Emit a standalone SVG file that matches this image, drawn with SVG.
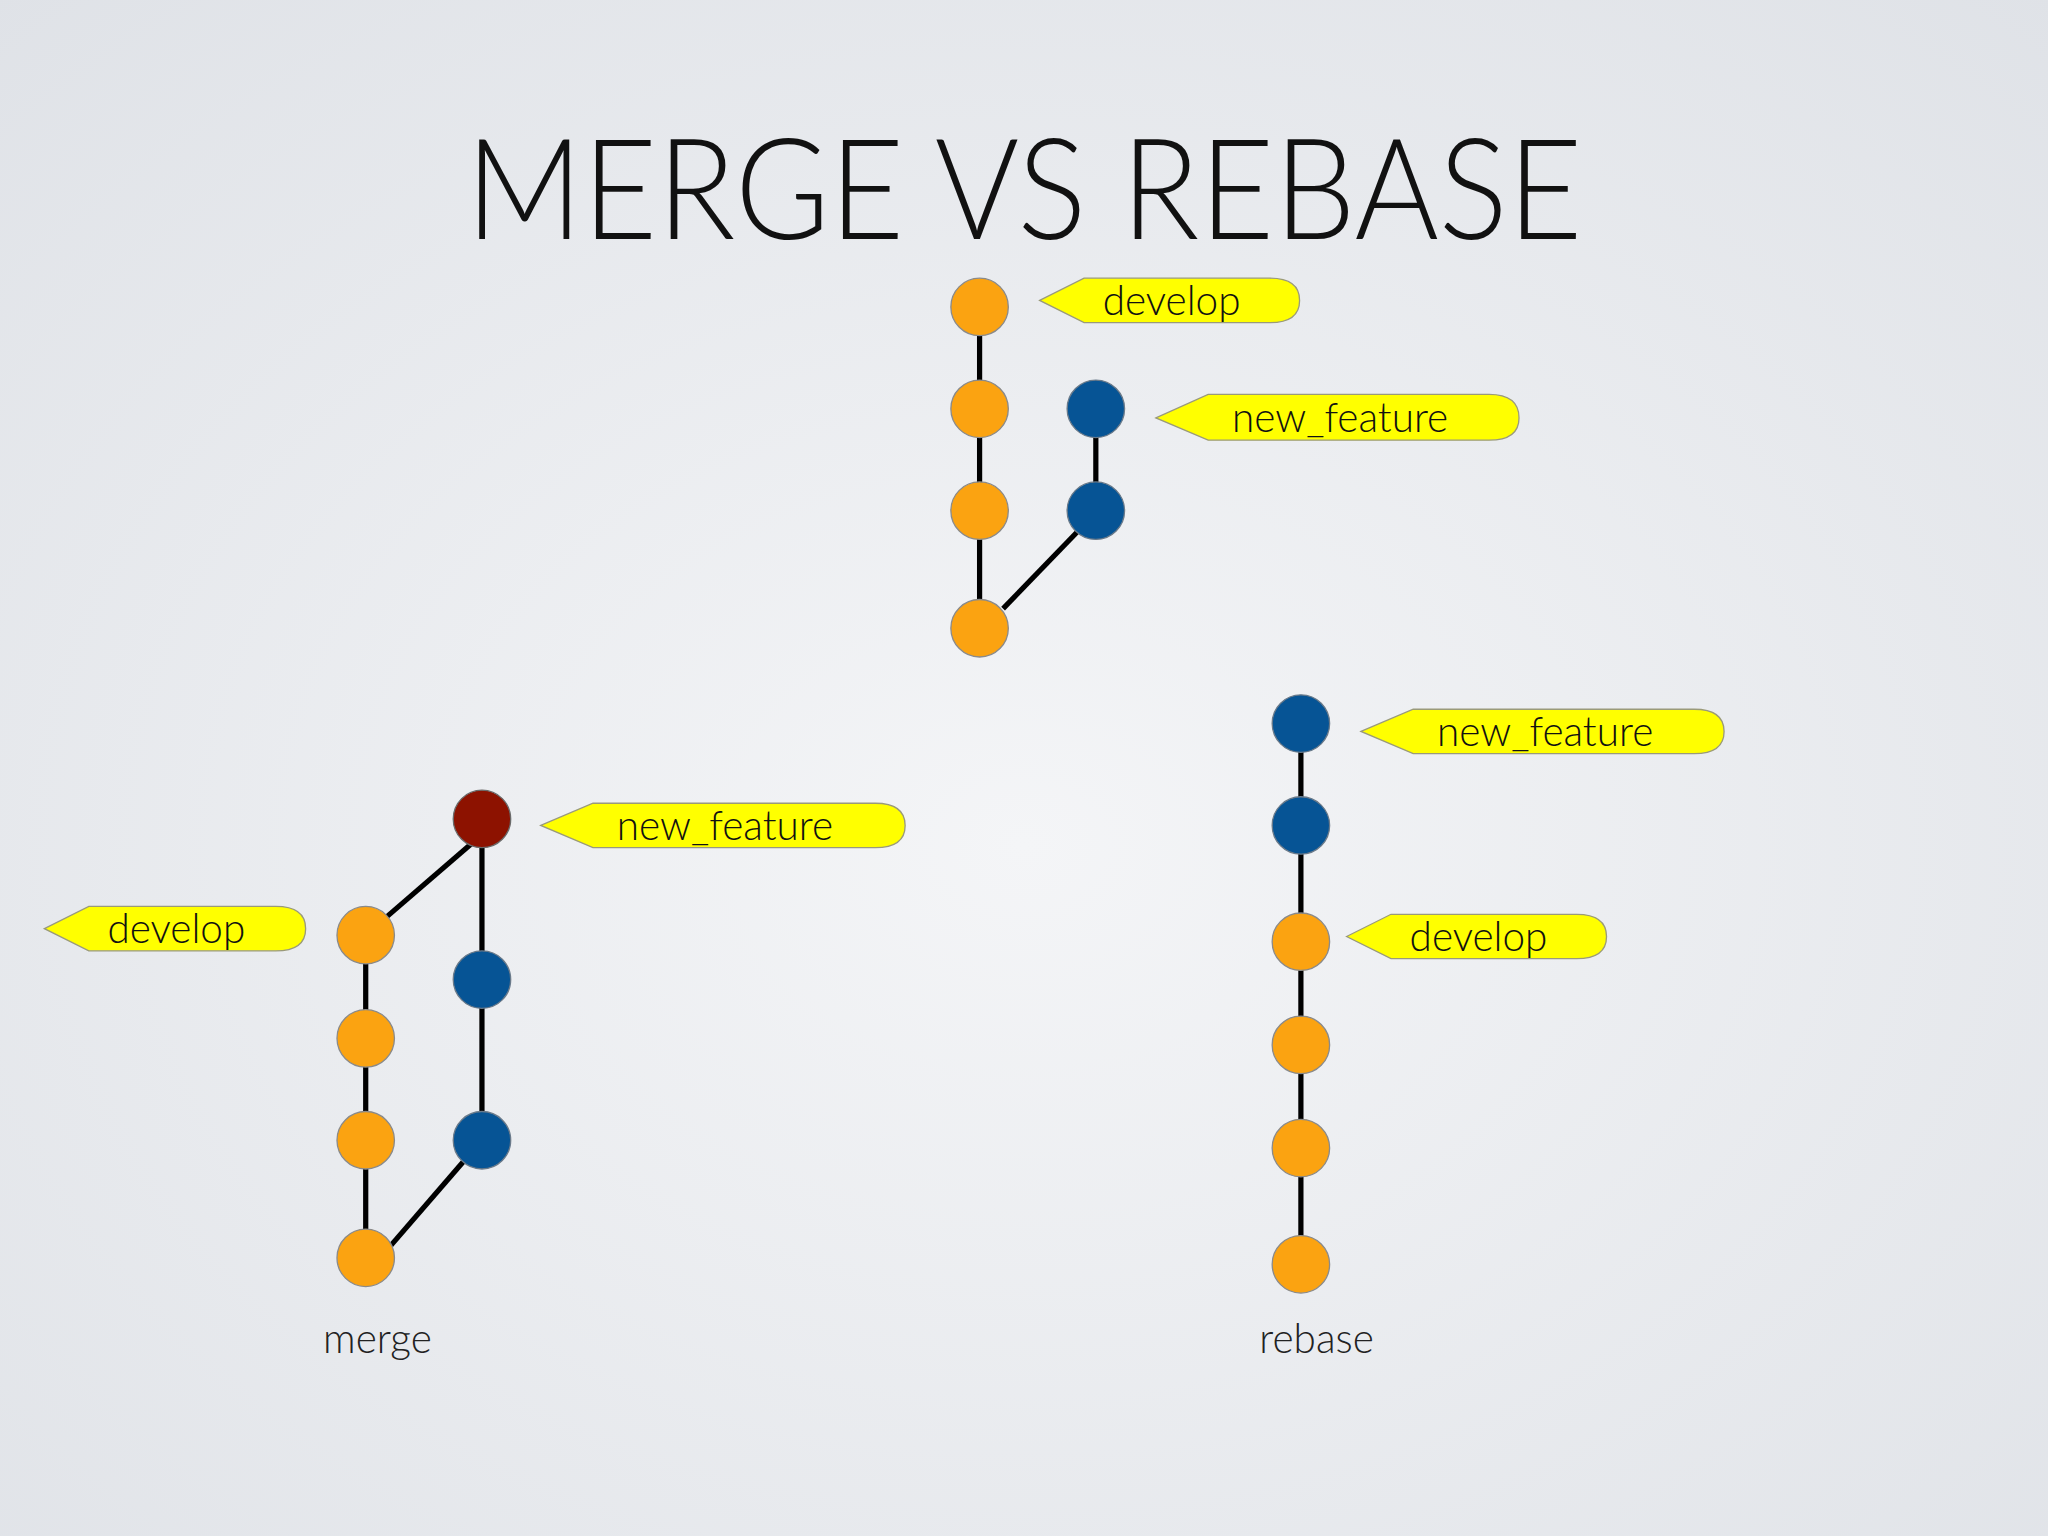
<svg xmlns="http://www.w3.org/2000/svg" width="2048" height="1536" viewBox="0 0 2048 1536">
<defs>
<radialGradient id="bg" cx="50%" cy="55%" r="75%">
<stop offset="0" stop-color="#f4f5f7"/><stop offset="1" stop-color="#dfe2e7"/>
</radialGradient>
<style>
.o{fill:#fba311;stroke:#8a8a8a;stroke-width:1}
.b{fill:#065495;stroke:#6a7a8a;stroke-width:1}
.r{fill:#8d1200;stroke:#6a6a6a;stroke-width:1}
.e{stroke:#000;stroke-width:4;fill:none}
.tag{fill:#ffff00;stroke:#9a9a7a;stroke-width:1}
.t{font-family:Lato,"Open Sans",sans-serif;font-weight:300;font-size:31px;fill:#111;text-anchor:middle}
.cap{font-family:Lato,"Open Sans",sans-serif;font-weight:300;font-size:31px;fill:#222;text-anchor:middle}
</style>
</defs>
<rect width="2048" height="1536" fill="url(#bg)"/>
<g transform="scale(1.30612)">
<text x="784" y="183" font-family="Lato,'Open Sans',sans-serif" font-weight="300" font-size="108" fill="#111" text-anchor="middle" textLength="855" lengthAdjust="spacingAndGlyphs">MERGE VS REBASE</text>
<g id="connectors">
<line class="e" x1="750" y1="235" x2="750" y2="481"/>
<line class="e" x1="839" y1="313" x2="839" y2="391"/>
<line class="e" x1="768" y1="466" x2="826" y2="406"/>
<line class="e" x1="280" y1="716" x2="280" y2="963"/>
<line class="e" x1="369" y1="627" x2="369" y2="873"/>
<line class="e" x1="296" y1="702" x2="362" y2="645"/>
<line class="e" x1="298" y1="955" x2="356" y2="888"/>
<line class="e" x1="996" y1="554" x2="996" y2="968"/>
</g>
<g id="top">
<circle class="o" cx="750" cy="235" r="22"/><circle class="o" cx="750" cy="313" r="22"/><circle class="o" cx="750" cy="391" r="22"/><circle class="o" cx="750" cy="481" r="22"/>
<circle class="b" cx="839" cy="313" r="22"/><circle class="b" cx="839" cy="391" r="22"/>
</g>
<g id="merge">
<circle class="r" cx="369" cy="627" r="22"/><circle class="b" cx="369" cy="750" r="22"/><circle class="b" cx="369" cy="873" r="22"/>
<circle class="o" cx="280" cy="716" r="22"/><circle class="o" cx="280" cy="795" r="22"/><circle class="o" cx="280" cy="873" r="22"/><circle class="o" cx="280" cy="963" r="22"/>
<text class="cap" x="289" y="1036">merge</text>
</g>
<g id="rebase">
<circle class="b" cx="996" cy="554" r="22"/><circle class="b" cx="996" cy="632" r="22"/>
<circle class="o" cx="996" cy="721" r="22"/><circle class="o" cx="996" cy="800" r="22"/><circle class="o" cx="996" cy="879" r="22"/><circle class="o" cx="996" cy="968" r="22"/>
<text class="cap" x="1008" y="1036">rebase</text>
</g>
<g id="tag-develop-top"><path class="tag" d="M796,230 L830,213 L972,213 Q995,213 995,230 Q995,247 972,247 L830,247 Z"/><text class="t" x="897" y="241">develop</text></g>
<g id="tag-feature-top"><path class="tag" d="M885,320 L925,302 L1140,302 Q1163,302 1163,320 Q1163,337 1140,337 L925,337 Z"/><text class="t" x="1026" y="331">new_feature</text></g>
<g id="tag-develop-merge"><path class="tag" d="M34,711 L68,694 L211,694 Q234,694 234,711 Q234,728 211,728 L68,728 Z"/><text class="t" x="135" y="722">develop</text></g>
<g id="tag-feature-merge"><path class="tag" d="M414,632 L454,615 L670,615 Q693,615 693,632 Q693,649 670,649 L454,649 Z"/><text class="t" x="555" y="643">new_feature</text></g>
<g id="tag-feature-rebase"><path class="tag" d="M1042,560 L1082,543 L1297,543 Q1320,543 1320,560 Q1320,577 1297,577 L1082,577 Z"/><text class="t" x="1183" y="571">new_feature</text></g>
<g id="tag-develop-rebase"><path class="tag" d="M1031,717 L1065,700 L1207,700 Q1230,700 1230,717 Q1230,734 1207,734 L1065,734 Z"/><text class="t" x="1132" y="728">develop</text></g>
</g>
</svg>
